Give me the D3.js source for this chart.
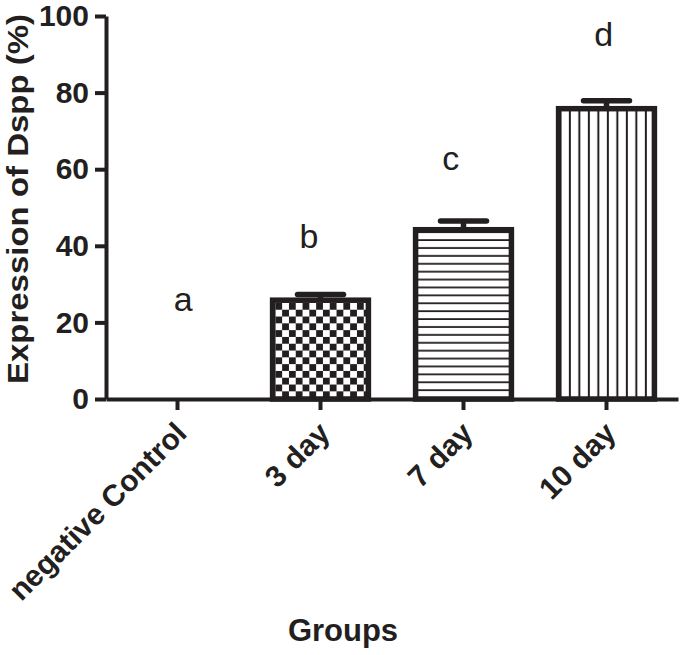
<!DOCTYPE html>
<html><head><meta charset="utf-8">
<script src="https://cdn.jsdelivr.net/npm/d3@7"></script>
<style>body{margin:0;background:#fff}</style>
</head><body>
<svg id="chart" width="685" height="655"></svg>
<script>
const categories = ["negative Control", "3 day", "7 day", "10 day"];
const means = [0, 25.8, 44.2, 75.8];
const errors = [0, 1.5, 2.3, 2.1];
const letters = ["a", "b", "c", "d"];
const letterValues = [23, 39.4, 59.8, 92.2];
const letterShift = [0.04, -0.08, -0.09, -0.02];
const fills = ["none", "checker", "hlines", "vlines"];
const yTicks = [0, 20, 40, 60, 80, 100];

const ink = "#231f20";
const svg = d3.select("#chart");
const x = d3.scaleBand().domain(categories).range([106, 678]).paddingInner(0.33).paddingOuter(0.165);
const y = d3.scaleLinear().domain([0, 100]).range([399, 16]);
const bw = x.bandwidth();
const sw = 5.5;

const defs = svg.append("defs");
categories.forEach((c, i) => {
  const px = x(c), py = y(means[i]);
  if (fills[i] === "checker") {
    const s = 6.8;
    const p = defs.append("pattern").attr("id", "pat" + i).attr("patternUnits", "userSpaceOnUse")
      .attr("x", px + sw / 2).attr("y", py + sw / 2).attr("width", 2 * s).attr("height", 2 * s);
    p.append("rect").attr("width", 2 * s).attr("height", 2 * s).attr("fill", "#fff");
    p.append("rect").attr("width", s).attr("height", s).attr("fill", ink);
    p.append("rect").attr("x", s).attr("y", s).attr("width", s).attr("height", s).attr("fill", ink);
  } else if (fills[i] === "hlines") {
    const g = 7.9;
    const p = defs.append("pattern").attr("id", "pat" + i).attr("patternUnits", "userSpaceOnUse")
      .attr("x", 0).attr("y", y(0)).attr("width", 20).attr("height", g);
    p.append("rect").attr("width", 20).attr("height", g).attr("fill", "#fff");
    p.append("rect").attr("y", g - 1.8).attr("width", 20).attr("height", 1.8).attr("fill", ink);
  } else if (fills[i] === "vlines") {
    const g = 9.5;
    const p = defs.append("pattern").attr("id", "pat" + i).attr("patternUnits", "userSpaceOnUse")
      .attr("x", px + sw / 2).attr("y", 0).attr("width", g).attr("height", 20);
    p.append("rect").attr("width", g).attr("height", 20).attr("fill", "#fff");
    p.append("rect").attr("x", g - 2).attr("width", 2).attr("height", 20).attr("fill", ink);
  }
});

// bars
const bars = svg.append("g");
categories.forEach((c, i) => {
  if (means[i] <= 0) return;
  bars.append("rect").attr("x", x(c)).attr("y", y(means[i])).attr("width", bw)
    .attr("height", y(0) - y(means[i]))
    .attr("fill", fills[i] === "none" ? "#fff" : `url(#pat${i})`)
    .attr("stroke", ink).attr("stroke-width", sw);
});

// error bars
const eb = svg.append("g").attr("stroke", ink).attr("stroke-width", sw);
categories.forEach((c, i) => {
  if (errors[i] <= 0) return;
  const cx = x(c) + bw / 2;
  eb.append("line").attr("x1", cx).attr("x2", cx).attr("y1", y(means[i])).attr("y2", y(means[i] + errors[i]));
  eb.append("line").attr("x1", cx - 23).attr("x2", cx + 23)
    .attr("y1", y(means[i] + errors[i])).attr("y2", y(means[i] + errors[i])).attr("stroke-linecap", "round");
});

// axes
const yAxis = svg.append("g").attr("transform", "translate(106,0)")
  .call(d3.axisLeft(y).tickValues(yTicks).tickSize(11).tickSizeOuter(0).tickPadding(6));
yAxis.select(".domain").attr("stroke", ink).attr("stroke-width", 4);
yAxis.selectAll(".tick line").attr("stroke", ink).attr("stroke-width", 4);
yAxis.selectAll(".tick text").attr("fill", ink)
  .style("font-family", "'Liberation Sans Narrow', 'Arial Narrow', 'Liberation Sans', Arial, sans-serif")
  .style("font-weight", "bold").style("font-size", "30px");

const xAxis = svg.append("g").attr("transform", `translate(0,${y(0)})`)
  .call(d3.axisBottom(x).tickSize(11).tickSizeOuter(0));
xAxis.select(".domain").attr("stroke", ink).attr("stroke-width", 4);
xAxis.selectAll(".tick line").attr("stroke", ink).attr("stroke-width", 4);
xAxis.selectAll(".tick text").attr("fill", ink)
  .style("font-family", "'Liberation Sans', Arial, sans-serif")
  .style("font-weight", "bold").style("font-size", "30px")
  .attr("text-anchor", "end").attr("dy", null).attr("y", 0)
  .attr("transform", "translate(11,36) rotate(-45)");

// letters
svg.append("g").selectAll("text").data(categories).join("text")
  .attr("x", (c, i) => x(c) + bw / 2 + letterShift[i] * x.step())
  .attr("y", (c, i) => y(letterValues[i]))
  .attr("text-anchor", "middle").attr("fill", ink)
  .style("font-family", "'Liberation Sans', Arial, sans-serif").style("font-size", "34px")
  .text((c, i) => letters[i]);

// titles
svg.append("text").attr("transform", "translate(28,199) rotate(-90)")
  .attr("text-anchor", "middle").attr("fill", ink)
  .attr("textLength", 370).attr("lengthAdjust", "spacingAndGlyphs")
  .style("font-family", "'Liberation Sans', Arial, sans-serif").style("font-weight", "bold").style("font-size", "30px")
  .text("Expression of Dspp (%)");
svg.append("text").attr("x", 343).attr("y", 641)
  .attr("text-anchor", "middle").attr("fill", ink)
  .style("font-family", "'Liberation Sans', Arial, sans-serif").style("font-weight", "bold").style("font-size", "31px")
  .text("Groups");
</script>
</body></html>
